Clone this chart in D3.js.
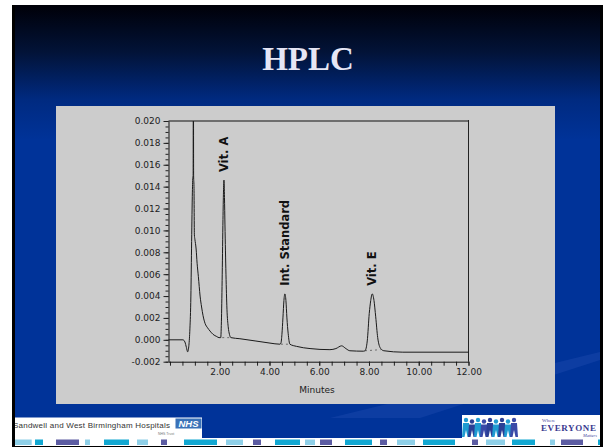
<!DOCTYPE html>
<html>
<head>
<meta charset="utf-8">
<script src="https://cdn.jsdelivr.net/npm/d3@7"></script>
<style>
  body { margin: 0; background: #fff; }
  svg { display: block; }
</style>
</head>
<body>
<script>
const title = "HPLC";

// chromatogram trace (minutes, AU)
const times = [-0.06, 0.52, 0.60, 0.66, 0.71, 0.76, 0.80, 0.84, 0.87, 0.90, 0.92, 0.93, 0.94, 0.95, 0.965,
  0.98, 1.00, 1.05, 1.09, 1.14, 1.21, 1.27, 1.33, 1.41, 1.51, 1.61, 1.73, 1.88, 1.97,
  2.04, 2.07, 2.10, 2.13, 2.15, 2.17, 2.19, 2.21, 2.25, 2.29, 2.34, 2.39, 2.45, 2.81, 3.42, 4.02, 4.42,
  4.46, 4.50, 4.54, 4.58, 4.62, 4.66, 4.70, 4.75, 4.82, 5.09, 5.63, 6.43, 6.67, 6.90, 7.07, 7.23, 7.77,
  7.84, 7.93, 8.01, 8.07, 8.13, 8.20, 8.27, 8.35, 8.47, 8.60, 9.36, 12.0];
const absorb = [0.0000, 0.0000, -0.0002, -0.0007, -0.0011, -0.0005, 0.0010, 0.0040, 0.0090, 0.0135, 0.0149, 0.0150, 0.0300, 0.0150, 0.0140,
  0.0096, 0.0092, 0.0083, 0.0070, 0.0058, 0.0040, 0.0030, 0.0022, 0.0015, 0.0011, 0.0008, 0.0005, 0.0003, 0.0002,
  0.0002, 0.0020, 0.0060, 0.0110, 0.0135, 0.0146, 0.0130, 0.0105, 0.0060, 0.0028, 0.0012, 0.0005, 0.0002, 0.0001, -0.0001, -0.0003, -0.0004,
  -0.0003, 0.0005, 0.0020, 0.0036, 0.0042, 0.0036, 0.0020, 0.0006, -0.0004, -0.0006, -0.0008, -0.0009, -0.0008, -0.00055, -0.0008, -0.0010, -0.00104,
  -0.0010, -0.0001, 0.0024, 0.0036, 0.0042, 0.0036, 0.0021, 0.0002, -0.0008, -0.0010, -0.00113, -0.00113];

// labelled peaks
const peakNames = ["Vit. A", "Int. Standard", "Vit. E"];
const peakTimes = [2.17, 4.62, 8.13];
const peakHeights = [0.0146, 0.0042, 0.0042];

// integration baselines under the peaks
const baseFrom = [2.10, 4.46, 7.84];
const baseTo = [2.45, 4.82, 8.47];
const baseFromLevel = [0.0002, -0.0004, -0.0010];
const baseToLevel = [0.0002, -0.0004, -0.0009];

const xTickValues = [2, 4, 6, 8, 10, 12];
const xTickLabels = ["2.00", "4.00", "6.00", "8.00", "10.00", "12.00"];
const yTickValues = [-0.002, 0, 0.002, 0.004, 0.006, 0.008, 0.010, 0.012, 0.014, 0.016, 0.018, 0.020];
const yTickLabels = ["-0.002", "0.000", "0.002", "0.004", "0.006", "0.008", "0.010", "0.012", "0.014", "0.016", "0.018", "0.020"];

const W = 604, H = 447;
const svg = d3.select(document.body).append('svg')
  .attr('width', W)
  .attr('height', H);

const defs = svg.append('defs');
const grad = defs.append('linearGradient')
  .attr('id', 'bg')
  .attr('gradientUnits', 'userSpaceOnUse')
  .attr('x1', 0).attr('y1', 5).attr('x2', 0).attr('y2', 140);
grad.append('stop').attr('offset', 0).attr('stop-color', '#000008');
grad.append('stop').attr('offset', 0.35).attr('stop-color', '#021338');
grad.append('stop').attr('offset', 0.7).attr('stop-color', '#002a80');
grad.append('stop').attr('offset', 1).attr('stop-color', '#003399');

defs.append('clipPath').attr('id', 'slideClip')
  .append('rect').attr('x', 15).attr('y', 5).attr('width', 585).attr('height', 441);
defs.append('clipPath').attr('id', 'plotClip')
  .append('rect').attr('x', 168).attr('y', 121).attr('width', 301).attr('height', 241);

// slide frame and background
svg.append('rect').attr('x', 12).attr('y', 5).attr('width', 591).attr('height', 442).attr('fill', '#000');
const slide = svg.append('g').attr('clip-path', 'url(#slideClip)');
slide.append('rect').attr('x', 15).attr('y', 5).attr('width', 585).attr('height', 441).attr('fill', 'url(#bg)');

// faint light streaks at the bottom right
slide.append('path')
  .attr('d', 'M330,418 L600,352 L600,360 L420,418 Z')
  .attr('fill', '#2a55b8').attr('opacity', 0.3);

slide.append('text')
  .attr('x', 308).attr('y', 70)
  .attr('text-anchor', 'middle')
  .attr('font-family', '"Liberation Serif", "Times New Roman", serif')
  .attr('font-weight', 'bold')
  .attr('font-size', 33)
  .attr('fill', '#e6e6f5')
  .text(title);

// grey panel holding the chromatogram
slide.append('rect').attr('x', 56).attr('y', 106).attr('width', 499).attr('height', 298).attr('fill', '#cccccc');

// footer
slide.append('rect').attr('x', 15).attr('y', 417.5).attr('width', 187).attr('height', 21).attr('fill', '#fff');
slide.append('rect').attr('x', 462).attr('y', 415).attr('width', 140).attr('height', 23).attr('fill', '#fff');
slide.append('rect').attr('x', 15).attr('y', 438).attr('width', 585).attr('height', 8).attr('fill', '#fff');

const squares = [
  [15, 31.7, '#8fd0e8'], [35, 43, '#12a8d2'], [56, 79, '#5c5ca2'], [85, 90, '#8fd0e8'], [104, 129, '#12a8d2'],
  [137, 148, '#8fd0e8'], [161, 167, '#5c5ca2'], [184, 217, '#12a8d2'], [226, 243, '#8fd0e8'], [253, 261, '#5c5ca2'],
  [275, 300, '#12a8d2'], [305, 315, '#8fd0e8'], [320, 332, '#5c5ca2'], [345, 372, '#12a8d2'], [380, 387, '#5c5ca2'],
  [397, 415, '#8fd0e8'], [423, 455, '#12a8d2'], [472, 478, '#5c5ca2'], [486, 505, '#8fd0e8'], [512, 535, '#12a8d2'],
  [550, 555, '#8fd0e8'], [561, 583, '#5c5ca2'], [598, 601, '#12a8d2']
];
slide.selectAll('.sq').data(squares).enter().append('rect')
  .attr('class', 'sq')
  .attr('x', d => d[0]).attr('y', 439.5)
  .attr('width', d => d[1] - d[0]).attr('height', 5.5)
  .attr('fill', d => d[2]);

slide.append('text')
  .attr('x', 13).attr('y', 428)
  .attr('font-family', '"Liberation Sans", Arial, sans-serif')
  .attr('font-size', 8)
  .attr('textLength', 157)
  .attr('fill', '#333')
  .text('Sandwell and West Birmingham Hospitals');
slide.append('rect').attr('x', 175.5).attr('y', 418.5).attr('width', 26).attr('height', 10).attr('fill', '#3a72b8');
slide.append('text')
  .attr('x', 188.5).attr('y', 427)
  .attr('text-anchor', 'middle')
  .attr('font-family', '"Liberation Sans", Arial, sans-serif')
  .attr('font-weight', 'bold').attr('font-style', 'italic')
  .attr('font-size', 9.5).attr('fill', '#fff')
  .text('NHS');
slide.append('text')
  .attr('x', 158).attr('y', 435)
  .attr('font-family', '"Liberation Sans", Arial, sans-serif')
  .attr('font-size', 3.5).attr('fill', '#777')
  .text('NHS Trust');

// people logo on the right
const people = [
  [466, '#1f9bd1'], [472, '#2b3f95'], [478, '#1f9bd1'], [484, '#3a4aa8'], [490, '#2b3f95'],
  [496, '#1f9bd1'], [502, '#2b3f95'], [508, '#1f9bd1'], [514, '#3a4aa8']
];
const logo = slide.append('g');
people.forEach((p, i) => {
  const up = i % 2 ? 1.5 : 0;
  logo.append('circle').attr('cx', p[0]).attr('cy', 420 + up).attr('r', 2.2).attr('fill', p[1]);
  logo.append('path')
    .attr('d', `M${p[0] - 3},${423 + up} L${p[0] + 3},${423 + up} L${p[0] + 4},${437} L${p[0] + 1.5},${437} L${p[0]},${430} L${p[0] - 1.5},${437} L${p[0] - 4},${437} Z`)
    .attr('fill', p[1]);
});
slide.append('text')
  .attr('x', 542).attr('y', 422)
  .attr('font-family', '"Liberation Serif", serif')
  .attr('font-size', 5).attr('fill', '#4a4aa0')
  .text('Where');
slide.append('text')
  .attr('x', 541).attr('y', 431)
  .attr('font-family', '"Liberation Serif", serif')
  .attr('font-weight', 'bold')
  .attr('font-size', 9).attr('fill', '#3a3a90')
  .attr('letter-spacing', 0.6)
  .text('EVERYONE');
slide.append('text')
  .attr('x', 583).attr('y', 436.5)
  .attr('font-family', '"Liberation Serif", serif')
  .attr('font-style', 'italic')
  .attr('font-size', 4.5).attr('fill', '#4a4aa0')
  .text('Matters');

// chart
const x = d3.scaleLinear().domain([-0.06, 12]).range([168.5, 468.5]);
const y = d3.scaleLinear().domain([-0.002, 0.020]).range([361.7, 121]);

const font = '"DejaVu Sans", Verdana, sans-serif';

// frame: grey top edge and dark right edge
slide.append('line')
  .attr('x1', 168.5).attr('x2', 468.5).attr('y1', 121).attr('y2', 121)
  .attr('stroke', '#6e6e6e').attr('stroke-width', 2);
slide.append('line')
  .attr('x1', 468.5).attr('x2', 468.5).attr('y1', 120).attr('y2', 361.7)
  .attr('stroke', '#222').attr('stroke-width', 1);

// minor ticks
slide.append('g')
  .attr('transform', 'translate(168.5,0)')
  .call(d3.axisLeft(y).tickValues(d3.range(-0.002, 0.02001, 0.0005)).tickSize(3).tickFormat(''))
  .call(g => g.select('.domain').remove())
  .call(g => g.selectAll('line').attr('stroke', '#222'));
slide.append('g')
  .attr('transform', 'translate(0,361.7)')
  .call(d3.axisBottom(x).tickValues(d3.range(0, 12.01, 0.5)).tickSize(4).tickFormat(''))
  .call(g => g.select('.domain').remove())
  .call(g => g.selectAll('line').attr('stroke', '#222'));

// major axes
slide.append('g')
  .attr('transform', 'translate(168.5,0)')
  .call(d3.axisLeft(y).tickValues(yTickValues).tickFormat((d, i) => yTickLabels[i]).tickSize(5).tickSizeOuter(0).tickPadding(3))
  .call(g => g.selectAll('text').attr('font-family', font).attr('font-size', 9).attr('fill', '#222'))
  .call(g => g.selectAll('line').attr('stroke', '#222'))
  .call(g => g.select('.domain').attr('stroke', '#111'));
slide.append('g')
  .attr('transform', 'translate(0,361.7)')
  .call(d3.axisBottom(x).tickValues(xTickValues).tickFormat((d, i) => xTickLabels[i]).tickSize(4).tickSizeOuter(0).tickPadding(3))
  .call(g => g.selectAll('text').attr('font-family', font).attr('font-size', 9).attr('fill', '#222'))
  .call(g => g.selectAll('line').attr('stroke', '#222'))
  .call(g => g.select('.domain').attr('stroke', '#111'));

slide.append('text')
  .attr('x', 317).attr('y', 393)
  .attr('text-anchor', 'middle')
  .attr('font-family', font).attr('font-size', 9).attr('fill', '#222')
  .text('Minutes');

// integration baselines
const plot = slide.append('g').attr('clip-path', 'url(#plotClip)');
plot.selectAll('.base').data(baseFrom).enter().append('line')
  .attr('class', 'base')
  .attr('x1', (d, i) => x(d)).attr('x2', (d, i) => x(baseTo[i]))
  .attr('y1', (d, i) => y(baseFromLevel[i])).attr('y2', (d, i) => y(baseToLevel[i]))
  .attr('stroke', '#555').attr('stroke-width', 0.8)
  .attr('stroke-dasharray', '2,3');

// trace
const trace = times.map((t, i) => [t, absorb[i]]);
plot.append('path')
  .datum(trace)
  .attr('fill', 'none')
  .attr('stroke', '#1a1a1a')
  .attr('stroke-width', 1)
  .attr('d', d3.line().x(d => x(d[0])).y(d => y(d[1])).curve(d3.curveMonotoneX));

// peak labels
slide.selectAll('.peak').data(peakNames).enter().append('text')
  .attr('class', 'peak')
  .attr('transform', (d, i) => `translate(${x(peakTimes[i]) + 4},${y(peakHeights[i]) - 8}) rotate(-90)`)
  .attr('font-family', font)
  .attr('font-weight', 'bold')
  .attr('font-size', 11.5)
  .attr('fill', '#111')
  .text(d => d);
</script>
</body>
</html>
